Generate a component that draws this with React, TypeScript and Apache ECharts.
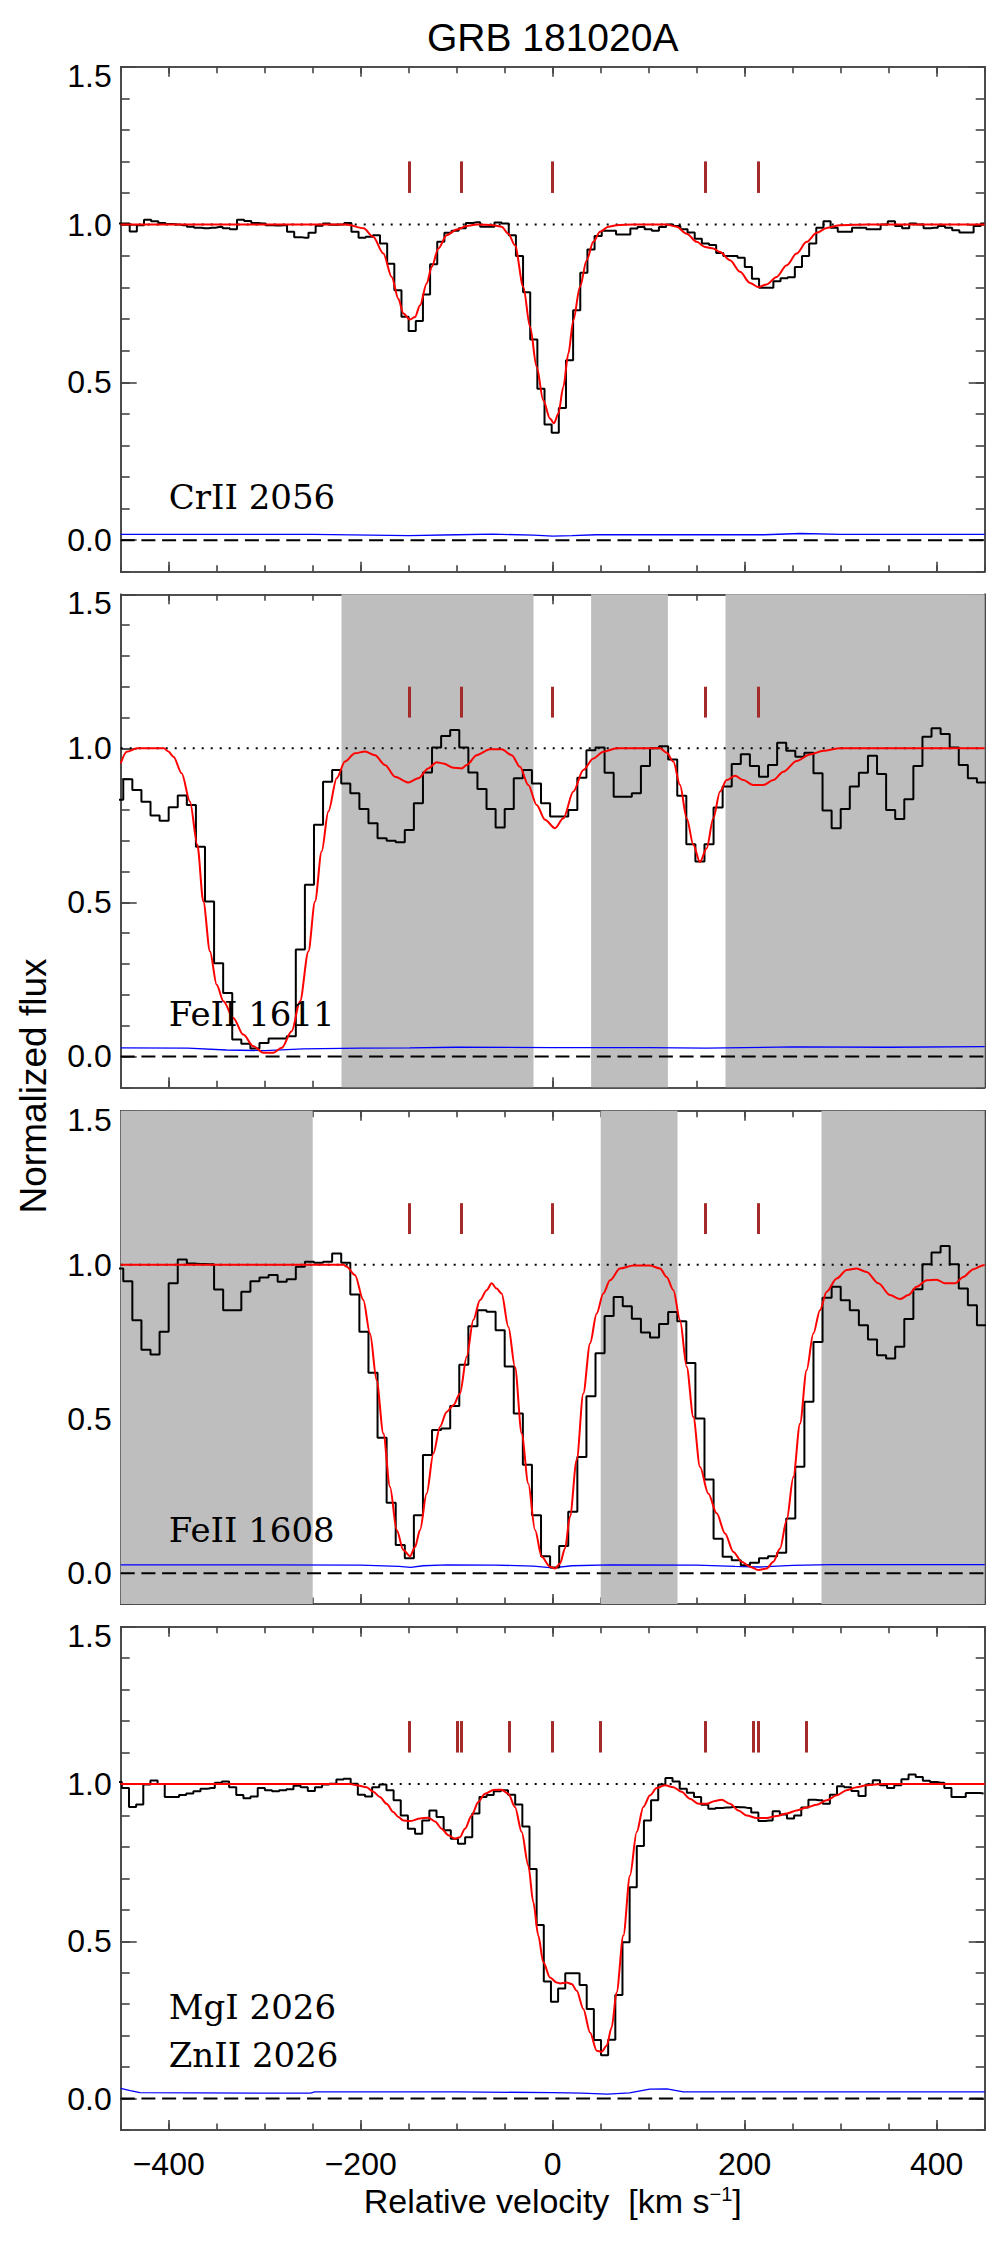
import React, { useEffect, useRef } from "react";
import * as echarts from "echarts";

// ---------------------------------------------------------------------------
// Axis ranges and labelled ticks
// ---------------------------------------------------------------------------
const VEL_RANGE = [-450, 450];
const FLUX_RANGE = [-0.1, 1.5];
const VEL_MAJOR = [-400, -200, 0, 200, 400];
const FLUX_MAJOR = [0, 0.5, 1.0, 1.5];

// ---------------------------------------------------------------------------
// Binned spectra: bin centre i = start + i * width (km/s)
// ---------------------------------------------------------------------------
const crII2056Start = -451.8;
const crII2056Width = 7.45;
const crII2056Flux = [
  1.003, 1.003, 0.978, 0.998, 1.015, 1.01, 1.005, 1.002, 1.0, 0.998,
  0.993, 0.99, 0.988, 0.99, 0.992, 0.988, 0.985, 1.015, 1.011, 1.005,
  1.003, 0.998, 0.997, 0.998, 0.977, 0.96, 0.958, 0.974, 0.996, 1.003,
  0.999, 1.0, 1.005, 0.977, 0.958, 0.961, 0.966, 0.94, 0.876, 0.792,
  0.708, 0.663, 0.694, 0.778, 0.874, 0.945, 0.974, 0.98, 0.988, 1.005,
  1.007, 0.993, 0.993, 1.006, 1.003, 0.966, 0.9, 0.785, 0.636, 0.48,
  0.366, 0.34, 0.419, 0.57, 0.728, 0.847, 0.921, 0.964, 0.98, 0.98,
  0.968, 0.968, 0.987, 0.992, 0.985, 0.98, 0.992, 1.0, 0.995, 0.985,
  0.975, 0.955, 0.94, 0.935, 0.91, 0.9, 0.9, 0.895, 0.865, 0.828,
  0.8, 0.8, 0.82, 0.83, 0.833, 0.865, 0.9, 0.94, 0.99, 1.01,
  0.99, 0.977, 0.977, 0.99, 0.99, 0.985, 0.985, 1.0, 1.01, 0.995,
  0.988, 1.003, 1.0, 0.988, 0.99, 0.995, 0.99, 0.982, 0.975, 0.975,
  0.995, 1.003,
];

const feII1611Start = -452.06;
const feII1611Width = 9.46;
const feII1611Flux = [
  0.833, 0.9, 0.865, 0.827, 0.782, 0.765, 0.809, 0.847, 0.816, 0.681,
  0.503, 0.303, 0.206, 0.055, 0.041, 0.026, 0.044, 0.058, 0.058, 0.066,
  0.347, 0.557, 0.752, 0.892, 0.93, 0.886, 0.854, 0.803, 0.757, 0.708,
  0.7, 0.695, 0.735, 0.822, 0.922, 1.003, 1.04, 1.06, 1.003, 0.922,
  0.868, 0.803, 0.743, 0.803, 0.903, 0.93, 0.886, 0.822, 0.779, 0.779,
  0.8, 0.905, 0.994, 1.003, 0.921, 0.843, 0.843, 0.854, 0.943, 1.0,
  1.007, 0.964, 0.846, 0.689, 0.633, 0.689, 0.808, 0.876, 0.949, 0.981,
  0.943, 0.908, 0.946, 1.018, 0.992, 0.973, 0.986, 0.919, 0.798, 0.741,
  0.803, 0.876, 0.921, 0.976, 0.917, 0.8, 0.771, 0.835, 0.943, 1.038,
  1.065, 1.047, 1.003, 0.946, 0.903, 0.889, 0.889,
];

const feII1608Start = -452.06;
const feII1608Width = 9.46;
const feII1608Flux = [
  0.988, 0.947, 0.82, 0.725, 0.709, 0.783, 0.94, 1.017, 1.004, 1.003,
  1.002, 0.92, 0.853, 0.853, 0.913, 0.947, 0.959, 0.967, 0.945, 0.953,
  0.994, 1.01, 1.007, 1.01, 1.037, 1.007, 0.904, 0.783, 0.65, 0.439,
  0.228, 0.091, 0.048, 0.188, 0.383, 0.464, 0.469, 0.542, 0.676, 0.801,
  0.853, 0.848, 0.788, 0.67, 0.518, 0.352, 0.188, 0.055, 0.018, 0.088,
  0.199, 0.377, 0.574, 0.713, 0.834, 0.896, 0.866, 0.825, 0.781, 0.764,
  0.808, 0.847, 0.817, 0.682, 0.502, 0.304, 0.112, 0.053, 0.042, 0.026,
  0.034, 0.048, 0.055, 0.066, 0.177, 0.345, 0.556, 0.75, 0.893, 0.929,
  0.885, 0.853, 0.804, 0.758, 0.707, 0.696, 0.734, 0.824, 0.921, 1.002,
  1.04, 1.061, 1.002, 0.923, 0.869, 0.804, 0.804,
];

const mgZn2026Start = -452.55;
const mgZn2026Width = 7.45;
const mgZn2026Flux = [
  1.006, 0.987, 0.927, 0.935, 0.998, 1.011, 1.0, 0.959, 0.959, 0.965,
  0.97, 0.977, 0.985, 0.987, 1.004, 1.008, 0.99, 0.965, 0.955, 0.96,
  0.987, 0.98, 0.977, 0.98, 0.983, 0.994, 0.99, 0.978, 0.99, 0.998,
  1.001, 1.014, 1.017, 1.001, 0.966, 0.96, 0.99, 0.998, 0.98, 0.948,
  0.9, 0.858, 0.842, 0.884, 0.916, 0.895, 0.853, 0.826, 0.81, 0.831,
  0.906, 0.959, 0.965, 0.977, 0.98, 0.966, 0.935, 0.865, 0.73, 0.552,
  0.372, 0.308, 0.35, 0.398, 0.398, 0.361, 0.285, 0.186, 0.138, 0.187,
  0.329, 0.497, 0.672, 0.803, 0.884, 0.948, 0.998, 1.019, 1.008, 0.985,
  0.972, 0.959, 0.934, 0.921, 0.924, 0.925, 0.927, 0.926, 0.924, 0.909,
  0.882, 0.884, 0.913, 0.903, 0.89, 0.9, 0.925, 0.95, 0.948, 0.937,
  0.966, 0.993, 0.99, 0.978, 0.962, 0.998, 1.012, 0.996, 0.987, 0.996,
  1.015, 1.03, 1.022, 1.01, 1.006, 1.004, 0.987, 0.959, 0.959, 0.971,
  0.971, 0.97,
];

// ---------------------------------------------------------------------------
// Voigt-profile fits, [velocity, normalized flux]
// ---------------------------------------------------------------------------
const crII2056Fit = [
  [-450, 1], [-215, 1], [-197, 0.988], [-187, 0.961], [-176.4, 0.908], [-167.7, 0.834],
  [-160.8, 0.765], [-155.6, 0.718], [-148.6, 0.699], [-143.4, 0.707], [-138.2, 0.744],
  [-131.3, 0.813], [-126, 0.866], [-119.1, 0.924], [-110.5, 0.966], [-100, 0.984],
  [-89.6, 0.995], [-79.2, 1.0], [-61.8, 0.998], [-53.2, 0.993], [-46.2, 0.971],
  [-39.3, 0.934], [-30.6, 0.802], [-23.6, 0.676], [-16.7, 0.549], [-9.8, 0.443],
  [-2.8, 0.385], [1.3, 0.37], [5.9, 0.401], [11.1, 0.486], [16.3, 0.591], [21.5, 0.697],
  [28.4, 0.802], [35.4, 0.887], [42.3, 0.945], [49.3, 0.977], [58, 0.993], [66.6, 0.998],
  [84, 1.0], [118.7, 1.0], [129.1, 0.993], [139.6, 0.971], [150, 0.945], [158.7, 0.929],
  [167.3, 0.924], [174.3, 0.913], [184.7, 0.887], [195.1, 0.85], [205.5, 0.815],
  [214.2, 0.802], [222.9, 0.81], [233.3, 0.834], [243.7, 0.871], [254.1, 0.908],
  [264.5, 0.945], [275, 0.974], [285.4, 0.989], [299.3, 0.998], [327, 1.0], [450, 1],
];

const feII1611Fit = [
  [-450, 0.951], [-443.8, 0.989], [-433, 1.0], [-405, 1.0], [-400.4, 0.99], [-395, 0.973],
  [-386.5, 0.919], [-377.8, 0.827], [-370.2, 0.687], [-363.9, 0.503], [-357, 0.341],
  [-350, 0.233], [-343, 0.179], [-332.7, 0.125], [-322.3, 0.071], [-311.8, 0.033],
  [-301.4, 0.012], [-291, 0.012], [-282.3, 0.028], [-271.9, 0.082], [-263.2, 0.179],
  [-254.5, 0.341], [-247.6, 0.503], [-240.7, 0.665], [-233.7, 0.795], [-225, 0.903],
  [-216.4, 0.957], [-206, 0.984], [-195.5, 0.99], [-185.1, 0.978], [-174.7, 0.946],
  [-164.3, 0.908], [-150.4, 0.889], [-140, 0.903], [-129.6, 0.935], [-120.9, 0.955],
  [-113.9, 0.951], [-103.5, 0.937], [-94.8, 0.935], [-89.6, 0.946], [-79.2, 0.978],
  [-65.3, 0.997], [-53.2, 0.997], [-42.7, 0.978], [-34.1, 0.94], [-25.4, 0.881],
  [-16.7, 0.816], [-8, 0.768], [2.4, 0.741], [11.1, 0.773], [21.5, 0.86], [31.9, 0.93],
  [42.3, 0.967], [52.7, 0.989], [66.6, 1.0], [111.8, 1.0], [118.7, 0.986], [125.7, 0.957],
  [132.6, 0.881], [139.6, 0.773], [146.5, 0.687], [153.4, 0.631], [160.4, 0.676],
  [167.3, 0.773], [174.3, 0.86], [181.2, 0.897], [189.9, 0.911], [198.6, 0.897],
  [209, 0.881], [219.4, 0.881], [229.8, 0.897], [240.2, 0.924], [254.1, 0.959],
  [268, 0.98], [281.9, 0.992], [299.3, 1.0], [450, 1.0],
];

const feII1608Fit = [
  [-450, 1], [-218, 1], [-214.6, 0.994], [-206, 0.967], [-197.3, 0.886], [-190.3, 0.777],
  [-183.4, 0.626], [-176.4, 0.453], [-169.5, 0.28], [-162.5, 0.14], [-155.6, 0.075],
  [-148.6, 0.055], [-143.4, 0.085], [-138.2, 0.14], [-131.3, 0.258], [-124.3, 0.388],
  [-117.4, 0.475], [-110.5, 0.523], [-103.5, 0.545], [-96.6, 0.583], [-89.6, 0.702],
  [-82.7, 0.821], [-75.7, 0.886], [-68.8, 0.918], [-63.6, 0.94], [-58.4, 0.923],
  [-53.2, 0.907], [-46.2, 0.799], [-39.3, 0.669], [-32.3, 0.453], [-25.4, 0.291],
  [-18.4, 0.14], [-11.5, 0.053], [-2.8, 0.021], [2.4, 0.015], [7.6, 0.031], [12.8, 0.08],
  [18, 0.183], [25, 0.367], [31.9, 0.583], [38.9, 0.745], [45.8, 0.842], [52.7, 0.907],
  [59.7, 0.95], [70.1, 0.988], [84, 0.998], [101.4, 0.998], [111.8, 0.988], [118.7, 0.961],
  [125.7, 0.918], [132.6, 0.821], [139.6, 0.669], [146.5, 0.507], [153.4, 0.345],
  [162.1, 0.258], [170.8, 0.194], [179.5, 0.129], [188.2, 0.069], [196.8, 0.037],
  [205.5, 0.021], [214.2, 0.01], [222.9, 0.015], [229.8, 0.037], [236.8, 0.08],
  [243.7, 0.172], [250.7, 0.312], [257.6, 0.485], [264.5, 0.658], [271.5, 0.777],
  [278.4, 0.853], [285.4, 0.913], [295.8, 0.956], [306.2, 0.983], [316.6, 0.988],
  [327, 0.977], [339.2, 0.94], [351.4, 0.902], [361.8, 0.889], [370.5, 0.902],
  [379.1, 0.929], [389.6, 0.95], [400, 0.952], [408.6, 0.94], [419.1, 0.94],
  [427.7, 0.961], [438.2, 0.986], [448.6, 0.999], [450, 1.0],
];

const mgZn2026Fit = [
  [-450, 1], [-211, 1], [-204.2, 0.996], [-193.8, 0.99], [-186.9, 0.975], [-180, 0.959],
  [-173, 0.937], [-166, 0.911], [-160.8, 0.895], [-155.6, 0.884], [-148.6, 0.882],
  [-138.2, 0.89], [-129.6, 0.893], [-122.6, 0.881], [-115.7, 0.858], [-108.7, 0.837],
  [-101.8, 0.826], [-96.6, 0.831], [-91.4, 0.858], [-84.4, 0.9], [-77.5, 0.943],
  [-70.5, 0.969], [-61.8, 0.981], [-53.2, 0.982], [-46.2, 0.969], [-39.3, 0.927],
  [-32.3, 0.847], [-25.4, 0.741], [-20.2, 0.624], [-15, 0.518], [-9.8, 0.433],
  [-2.8, 0.385], [4.1, 0.369], [7.6, 0.366], [14.5, 0.369], [19.8, 0.364], [25, 0.343],
  [31.9, 0.285], [38.9, 0.21], [45.8, 0.152], [51, 0.149], [56.2, 0.168], [61.4, 0.226],
  [66.6, 0.338], [73.6, 0.518], [80.5, 0.709], [87.5, 0.847], [94.4, 0.927],
  [101.4, 0.964], [108.3, 0.987], [117, 0.996], [125.7, 0.99], [134.3, 0.975],
  [143, 0.953], [151.7, 0.937], [160.4, 0.937], [169.1, 0.946], [176, 0.95],
  [184.7, 0.937], [193.4, 0.916], [202.1, 0.9], [212.5, 0.892], [222.9, 0.892],
  [233.3, 0.898], [243.7, 0.906], [254.1, 0.916], [264.5, 0.925], [275, 0.934],
  [285.4, 0.948], [295.8, 0.964], [306.2, 0.98], [316.6, 0.99], [327, 0.996],
  [344.4, 1.0], [450, 1],
];

// ---------------------------------------------------------------------------
// 1-sigma error spectra, [velocity, flux]
// ---------------------------------------------------------------------------
const crII2056Err = [
  [-450, 0.018], [-250, 0.018], [-150, 0.014], [-100, 0.017], [-62, 0.019], [-20, 0.016],
  [0, 0.013], [20, 0.014], [45, 0.017], [150, 0.017], [220, 0.017], [258, 0.021],
  [300, 0.018], [450, 0.018],
];
const feII1611Err = [
  [-450, 0.028], [-380, 0.027], [-340, 0.021], [-300, 0.019], [-260, 0.025], [-200, 0.027],
  [-149, 0.028], [-100, 0.03], [0, 0.029], [100, 0.029], [160, 0.027], [250, 0.031],
  [350, 0.03], [450, 0.032],
];
const feII1608Err = [
  [-450, 0.027], [-300, 0.027], [-200, 0.026], [-160, 0.022], [-148, 0.019], [-135, 0.024],
  [-110, 0.027], [-60, 0.026], [-20, 0.023], [0, 0.017], [20, 0.024], [60, 0.027],
  [150, 0.026], [190, 0.022], [215, 0.02], [250, 0.025], [290, 0.028], [450, 0.028],
];
const mgZn2026Err = [
  [-450, 0.032], [-440, 0.025], [-430, 0.019], [-300, 0.017], [-252, 0.017], [-248, 0.021],
  [-100, 0.021], [0, 0.019], [30, 0.017], [57, 0.014], [80, 0.018], [101, 0.03],
  [119, 0.031], [136, 0.021], [450, 0.021],
];

// ---------------------------------------------------------------------------
// Fitted velocity components and blended (masked) windows, km/s
// ---------------------------------------------------------------------------
const fitComponents = [-149, -95, 0, 159, 214];
const mgIComponents = [-99, -45, 50, 209, 264];
const feII1611Masks = [[-220, -20], [40, 120], [180, 450]];
const feII1608Masks = [[-450, -250], [50, 130], [280, 450]];

const panelLabels = [["CrII 2056"], ["FeII 1611"], ["FeII 1608"], ["MgI 2026", "ZnII 2026"]];

// ---------------------------------------------------------------------------
// Layout and style
// ---------------------------------------------------------------------------
const PAGE_W = 1003;
const PAGE_H = 2244;
const GRID_LEFT = 120.7;
const GRID_RIGHT = 18.3;
const PANEL_TOPS = [66.7, 594.3, 1110.7, 1626.7];
const PANEL_HEIGHTS = [505, 493, 493.3, 503.3];
const SANS = "Liberation Sans";
const SERIF = "DejaVu Serif";
const FRAME = { color: "#454545", width: 1.6 };
const LABEL_VEL = -400;
const LABEL_BASE = 0.1;
const LABEL_STEP = 0.152;
const ION_FONT = 34;

const binned = (start: number, width: number, flux: number[]) =>
  flux.map((f, i) => [start + i * width, f]);

const panels = [
  {
    spec: binned(crII2056Start, crII2056Width, crII2056Flux),
    fit: crII2056Fit, err: crII2056Err, comps: fitComponents, masks: [] as number[][],
  },
  {
    spec: binned(feII1611Start, feII1611Width, feII1611Flux),
    fit: feII1611Fit, err: feII1611Err, comps: fitComponents, masks: feII1611Masks,
  },
  {
    spec: binned(feII1608Start, feII1608Width, feII1608Flux),
    fit: feII1608Fit, err: feII1608Err, comps: fitComponents, masks: feII1608Masks,
  },
  {
    spec: binned(mgZn2026Start, mgZn2026Width, mgZn2026Flux),
    fit: mgZn2026Fit, err: mgZn2026Err, comps: [...fitComponents, ...mgIComponents],
    masks: [] as number[][],
  },
];

const fmtVel = (v: number) => (v < 0 ? "\u2212" + Math.abs(v) : String(v));

function buildOption() {
  const grid: any[] = [];
  const xAxis: any[] = [];
  const yAxis: any[] = [];
  const series: any[] = [];
  const refs: { x: number; y: number }[] = [];

  panels.forEach((p, i) => {
    const last = i === panels.length - 1;
    grid.push({ left: GRID_LEFT, right: GRID_RIGHT, top: PANEL_TOPS[i], height: PANEL_HEIGHTS[i] });

    const xBase = {
      gridIndex: i, type: "value", min: VEL_RANGE[0], max: VEL_RANGE[1],
      splitLine: { show: false },
      axisLine: { show: true, onZero: false, lineStyle: FRAME },
    };
    const xi = xAxis.length;
    ["bottom", "top"].forEach((pos) => {
      xAxis.push({
        ...xBase, position: pos, interval: 50,
        axisTick: { show: true, inside: true, length: 6.5, lineStyle: FRAME },
        axisLabel: { show: false },
        ...(last && pos === "bottom"
          ? {
              name: "{a|Relative velocity  [km s}{b|\u22121}{a|]}",
              nameLocation: "middle",
              nameGap: 54,
              nameTextStyle: {
                rich: {
                  a: { fontSize: 34, fontFamily: SANS, color: "#000", lineHeight: 34 },
                  b: { fontSize: 20, fontFamily: SANS, color: "#000", lineHeight: 20, verticalAlign: "top" },
                },
              },
            }
          : {}),
      });
      xAxis.push({
        ...xBase, position: pos,
        axisTick: { show: true, inside: true, length: 10, customValues: VEL_MAJOR, lineStyle: FRAME },
        axisLabel: {
          show: last && pos === "bottom", customValues: VEL_MAJOR, formatter: fmtVel,
          fontSize: 32, fontFamily: SANS, color: "#000", margin: 18,
        },
      });
    });

    const yBase = {
      gridIndex: i, type: "value", min: FLUX_RANGE[0], max: FLUX_RANGE[1],
      splitLine: { show: false },
      axisLine: { show: true, onZero: false, lineStyle: FRAME },
    };
    const yi = yAxis.length;
    ["left", "right"].forEach((pos) => {
      yAxis.push({
        ...yBase, position: pos, interval: 0.1,
        axisTick: { show: true, inside: true, length: 9, lineStyle: FRAME },
        axisLabel: { show: false },
      });
      yAxis.push({
        ...yBase, position: pos,
        axisTick: { show: true, inside: true, length: 16, customValues: FLUX_MAJOR, lineStyle: FRAME },
        axisLabel: {
          show: pos === "left", customValues: FLUX_MAJOR,
          formatter: (v: number) => (v >= 1.5 ? "{top|1.5}" : v.toFixed(1)),
          fontSize: 32, fontFamily: SANS, color: "#000", margin: 9,
          rich: { top: { fontSize: 32, fontFamily: SANS, color: "#000", padding: [18, 0, 0, 0] } },
        },
      });
    });
    refs.push({ x: xi, y: yi });

    const on = { xAxisIndex: xi, yAxisIndex: yi, animation: false, silent: true };

    // blended windows
    series.push({
      ...on, type: "line", z: 1, symbol: "none",
      data: [[VEL_RANGE[0], 1], [VEL_RANGE[1], 1]],
      lineStyle: { opacity: 0 },
      markArea: {
        silent: true, animation: false,
        itemStyle: { color: "#bebebe" },
        data: p.masks.map(([a, b]) => [{ xAxis: a }, { xAxis: b }]),
      },
    });
    // continuum
    series.push({
      ...on, type: "line", z: 2, symbol: "none",
      data: [[VEL_RANGE[0], 1], [VEL_RANGE[1], 1]],
      lineStyle: { color: "#000", width: 2, type: [2, 7] },
    });
    // zero level, with component ticks
    series.push({
      ...on, type: "line", z: 2, symbol: "none",
      data: [[VEL_RANGE[0], 0], [VEL_RANGE[1], 0]],
      lineStyle: { color: "#000", width: 2, type: [14, 6.7] },
      markLine: {
        silent: true, animation: false, symbol: ["none", "none"],
        label: { show: false },
        lineStyle: { type: "solid", color: "#a52a2a", width: 3 },
        data: p.comps.map((v) => [{ coord: [v, 1.1] }, { coord: [v, 1.2] }]),
      },
    });
    // error spectrum
    series.push({
      ...on, type: "line", z: 3, symbol: "none", data: p.err,
      lineStyle: { color: "#0000ff", width: 1.3 },
    });
    // data
    series.push({
      ...on, type: "line", z: 4, symbol: "none", step: "middle", data: p.spec,
      lineStyle: { color: "#000", width: 2 },
    });
    // fit
    series.push({
      ...on, type: "line", z: 5, symbol: "none", data: p.fit,
      smooth: 0.3, smoothMonotone: "x",
      lineStyle: { color: "#ff0000", width: 2 },
    });
  });

  return {
    option: {
      animation: false,
      backgroundColor: "#ffffff",
      grid, xAxis, yAxis, series,
    },
    refs,
  };
}

function buildGraphics(chart: any, refs: { x: number; y: number }[]) {
  const g: any[] = [];
  const [cx] = chart.convertToPixel({ xAxisIndex: refs[0].x, yAxisIndex: refs[0].y }, [0, 1]);
  g.push({
    type: "text", x: cx, y: 37, silent: true, z: 100,
    style: {
      text: "GRB 181020A", fontSize: 39, fontFamily: SANS, fill: "#000",
      align: "center", verticalAlign: "middle",
    },
  });
  g.push({
    type: "text", x: 33, y: 1086, rotation: Math.PI / 2, silent: true, z: 100,
    style: {
      text: "Normalized flux", fontSize: 37, fontFamily: SANS, fill: "#000",
      align: "center", verticalAlign: "middle",
    },
  });
  panelLabels.forEach((lines, i) => {
    lines.forEach((txt, li) => {
      const f = LABEL_BASE + LABEL_STEP * (lines.length - 1 - li);
      const [x, y] = chart.convertToPixel({ xAxisIndex: refs[i].x, yAxisIndex: refs[i].y }, [LABEL_VEL, f]);
      g.push({
        type: "text", x, y: y - 0.35 * ION_FONT, silent: true, z: 100,
        style: {
          text: txt, fontSize: ION_FONT, fontFamily: SERIF, fill: "#000",
          align: "left", verticalAlign: "middle",
        },
      });
    });
  });
  return g;
}

export default function App() {
  const ref = useRef<HTMLDivElement>(null);
  useEffect(() => {
    if (!ref.current) return;
    const chart = echarts.init(ref.current, null, { renderer: "svg" });
    const { option, refs } = buildOption();
    chart.setOption(option);
    chart.setOption({ graphic: buildGraphics(chart, refs) });
    return () => chart.dispose();
  }, []);
  return (
    <div
      ref={ref}
      style={{ position: "absolute", left: 0, top: 0, width: PAGE_W, height: PAGE_H, background: "#fff" }}
    />
  );
}
